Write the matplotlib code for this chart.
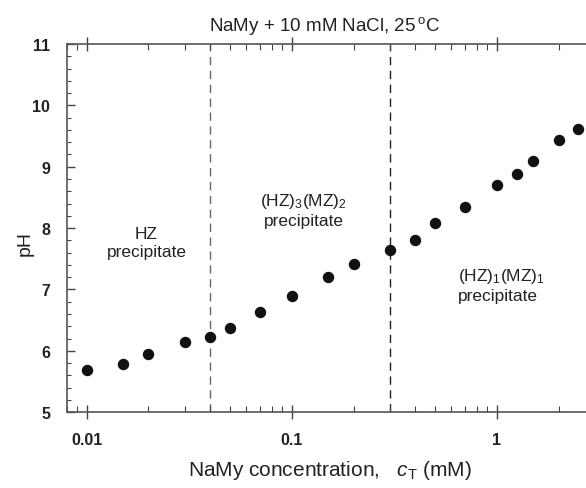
import numpy as np
import matplotlib
matplotlib.use('Agg')
from matplotlib import pyplot as plt
from matplotlib.ticker import LogLocator, FixedLocator, NullFormatter, MultipleLocator

plt.rcParams['font.family'] = ['Liberation Sans', 'DejaVu Sans']
plt.rcParams['mathtext.fontset'] = 'custom'
plt.rcParams['mathtext.rm'] = 'Liberation Sans'
plt.rcParams['mathtext.it'] = 'Liberation Sans:italic'

# data
conc = [0.01, 0.015, 0.02, 0.03, 0.04, 0.05, 0.07, 0.1, 0.15, 0.2,
        0.3, 0.4, 0.5, 0.7, 1.0, 1.25, 1.5, 2.0, 2.5]
ph = [5.69, 5.79, 5.95, 6.14, 6.23, 6.37, 6.64, 6.89, 7.20, 7.41,
      7.64, 7.81, 8.08, 8.34, 8.70, 8.88, 9.09, 9.43, 9.61]
boundaries = [0.04, 0.3]
boundary_colors = ['#666666', '#222222']
xticks = [0.01, 0.1, 1]
xticklabels = ['0.01', '0.1', '1']
yticks = [5, 6, 7, 8, 9, 10, 11]

fig = plt.figure(figsize=(5.86, 4.89), dpi=100)
ax = fig.add_axes([0.114, 0.155, 0.886, 0.753])

ax.plot(conc, ph, 'o', color='#111111', markersize=7.2, zorder=3)
for b, c in zip(boundaries, boundary_colors):
    ax.axvline(b, color=c, linestyle=(0, (6, 4)), linewidth=1.0, zorder=1)

ax.set_xscale('log')
ax.set_xlim(0.008, 2.72)
ax.set_ylim(5, 11)

ax.xaxis.set_major_locator(FixedLocator(xticks))
ax.set_xticklabels(xticklabels)
ax.xaxis.set_minor_locator(LogLocator(base=10, subs=np.arange(2, 10)))
ax.xaxis.set_minor_formatter(NullFormatter())
ax.yaxis.set_major_locator(FixedLocator(yticks))
ax.yaxis.set_minor_locator(MultipleLocator(0.2))

for sp in ['left', 'bottom', 'top']:
    ax.spines[sp].set_color('#555555')
    ax.spines[sp].set_linewidth(1.2)
ax.spines['right'].set_visible(False)

ax.tick_params(axis='x', which='major', direction='inout', length=10, width=1.0,
               color='#444444', top=True, pad=9)
ax.tick_params(axis='x', which='minor', direction='in', length=4, width=0.8,
               color='#444444', top=True)
ax.tick_params(axis='y', which='major', direction='in', length=6, width=1.0,
               color='#444444', right=False, pad=12)
ax.tick_params(axis='y', which='minor', direction='in', length=3, width=0.8,
               color='#444444', right=False)
for lab in ax.get_xticklabels() + ax.get_yticklabels():
    lab.set_fontweight('bold')
    lab.set_fontsize(11.5)
    lab.set_color('#222222')

ax.set_xlabel('NaMy concentration,   $c_\\mathrm{T}$ (mM)', fontsize=15, color='#222222',
              va='center')
ax.xaxis.set_label_coords(0.507, -0.155)
ax.set_ylabel('pH', fontsize=14, color='#222222', va='center')
ax.yaxis.set_label_coords(-0.081, 0.46)
ax.set_title('NaMy + 10 mM NaCl, 25$\\,^\\mathrm{o}$C', fontsize=13.5, color='#222222',
             x=0.497, y=1.0, pad=10)

ax.text(0.0196, 7.76, 'HZ\nprecipitate', ha='center', va='center', fontsize=12.5,
        color='#222222', linespacing=1.25)
ax.text(0.1146, 8.31, '(HZ)$_3$(MZ)$_2$\nprecipitate', ha='center', va='center',
        fontsize=12.5, color='#222222', linespacing=1.25)
ax.text(0.646, 7.08, '(HZ)$_1$(MZ)$_1$\nprecipitate', ha='left', va='center',
        fontsize=12.5, color='#222222', linespacing=1.25)

fig.savefig('out.png', dpi=100)
